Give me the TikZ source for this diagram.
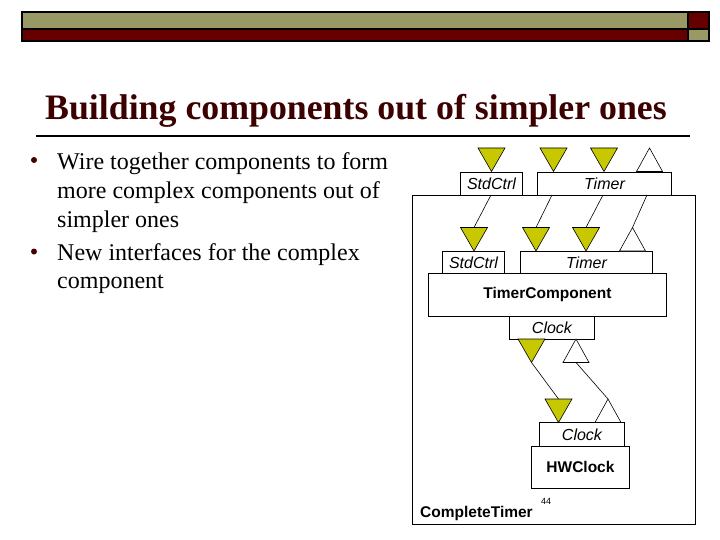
\documentclass[tikz,border=0pt]{standalone}
\usepackage{fontspec}
\setmainfont{Liberation Serif}
\setsansfont{Liberation Sans}
\usetikzlibrary{positioning, calc}

\definecolor{olivebar}{HTML}{999966}
\definecolor{maroon}{HTML}{660000}
\definecolor{titlered}{HTML}{3C0000}
\definecolor{iface}{HTML}{C8C800}

% interface triangles: x of centre, y of top, name
\newcommand{\portdown}[3]{%
  \filldraw[port] (#1-13.5,#2) -- (#1+13.5,#2) -- (#1,#2+23.5) -- cycle;
  \coordinate (#3) at (#1,#2);
  \coordinate (#3tip) at (#1,#2+23.5);}
\newcommand{\portup}[3]{%
  \filldraw[portw] (#1-13,#2+23.5) -- (#1+13,#2+23.5) -- (#1,#2) -- cycle;
  \coordinate (#3) at (#1,#2);
  \coordinate (#3base) at (#1,#2+23.5);}

\begin{document}
\begin{tikzpicture}[x=1pt, y=-1pt,
    box/.style={draw, fill=white, line width=0.9pt, inner sep=0pt, anchor=north west},
    port/.style={fill=iface, draw=black, line width=0.6pt},
    portw/.style={fill=white, draw=black, line width=0.6pt},
    wire/.style={draw, line width=0.6pt},
    itext/.style={font=\fontsize{16}{18}\selectfont\sffamily\itshape},
    btext/.style={font=\fontsize{15.5}{18}\selectfont\sffamily\bfseries},
    bullettext/.style={anchor=base west, inner sep=0pt, font=\fontsize{24}{28}\selectfont}]
    \useasboundingbox (0,0) rectangle (720,540);
    \fill[white] (0,0) rectangle (720,540);

    % header bar
    \begin{scope}[draw=black, line width=1.5pt]
        \filldraw[fill=olivebar] (22,12) rectangle (688,29);
        \filldraw[fill=maroon] (688,12) rectangle (709,29);
        \filldraw[fill=maroon] (22,29) rectangle (688,41);
        \filldraw[fill=olivebar] (688,29) rectangle (709,41);
    \end{scope}

    % title
    \node[anchor=base west, inner sep=0pt, text=titlered,
          font=\fontsize{35.8}{40}\selectfont\bfseries] (title) at (45,120)
          {Building components out of simpler ones};
    \draw[line width=2pt] (36,136.5) -- (690,136.5);

    % bullets
    \fill[maroon!70!black] (34,160) circle (3);
    \fill[maroon!70!black] (34,251.5) circle (3);
    \node[bullettext] (b1a) at (57,170) {Wire together components to form};
    \node[bullettext] (b1b) at (57,198.5) {more complex components out of};
    \node[bullettext] (b1c) at (57,227) {simpler ones};
    \node[bullettext] (b2a) at (57,260) {New interfaces for the complex};
    \node[bullettext] (b2b) at (57,288.5) {component};

    % CompleteTimer
    \node[box, minimum width=283pt, minimum height=329pt] (complete) at (412,195) {};
    \node[anchor=base west, inner sep=0pt, btext] (completelbl) at (420,517.5) {CompleteTimer};
    \node[inner sep=0pt, font=\fontsize{9}{10}\selectfont\sffamily] (pagenum) at (546,501) {44};

    \node[box, minimum width=62pt, minimum height=23pt, itext] (ctrlout) at (460,172) {StdCtrl};
    \node[box, minimum width=134pt, minimum height=23pt, itext] (timerout) at (537,172) {Timer};
    \portdown{491.5}{148}{p1}
    \portdown{553.5}{148}{p2}
    \portdown{604}{148}{p3}
    \portup{649.5}{148}{p4}
    \draw[line width=1.4pt] (636.5,171.5) -- (662.5,171.5);

    % TimerComponent
    \node[box, minimum width=238pt, minimum height=43pt, btext] (timercomp) at (428,273) {TimerComponent};
    \node[box, minimum width=62pt, minimum height=22pt, itext] (ctrlin) at (442,251) {StdCtrl};
    \node[box, minimum width=132pt, minimum height=22pt, itext] (timerin) at (520,251) {Timer};
    \node[box, minimum width=85pt, minimum height=23pt, itext] (clockuse) at (509,316) {Clock};
    \portdown{474}{227.5}{q1}
    \portdown{536}{227.5}{q2}
    \portdown{586}{227.5}{q3}
    \portup{632.5}{227.5}{q4}
    \portdown{531.5}{339}{c1}
    \portup{576}{339}{c2}

    % HWClock
    \node[box, minimum width=98pt, minimum height=42pt, btext] (hwclock) at (531,446) {HWClock};
    \node[box, minimum width=85pt, minimum height=24pt, itext] (clockprov) at (539,422) {Clock};
    \portdown{558.5}{399}{h1}
    \portup{608}{399}{h2}

    % wiring
    \coordinate (w1) at (491,195);
    \coordinate (w2) at (552,195);
    \coordinate (w3) at (603,195);
    \coordinate (w4) at (647,195);
    \draw[wire] (w1) -- (q1);
    \draw[wire] (w2) -- (q2);
    \draw[wire] (w3) -- (q3);
    \draw[wire] (w4) -- (q4);
    \draw[wire] (c1tip) -- (h1);
    \draw[wire] (c2base) -- (h2);
\end{tikzpicture}
\end{document}
